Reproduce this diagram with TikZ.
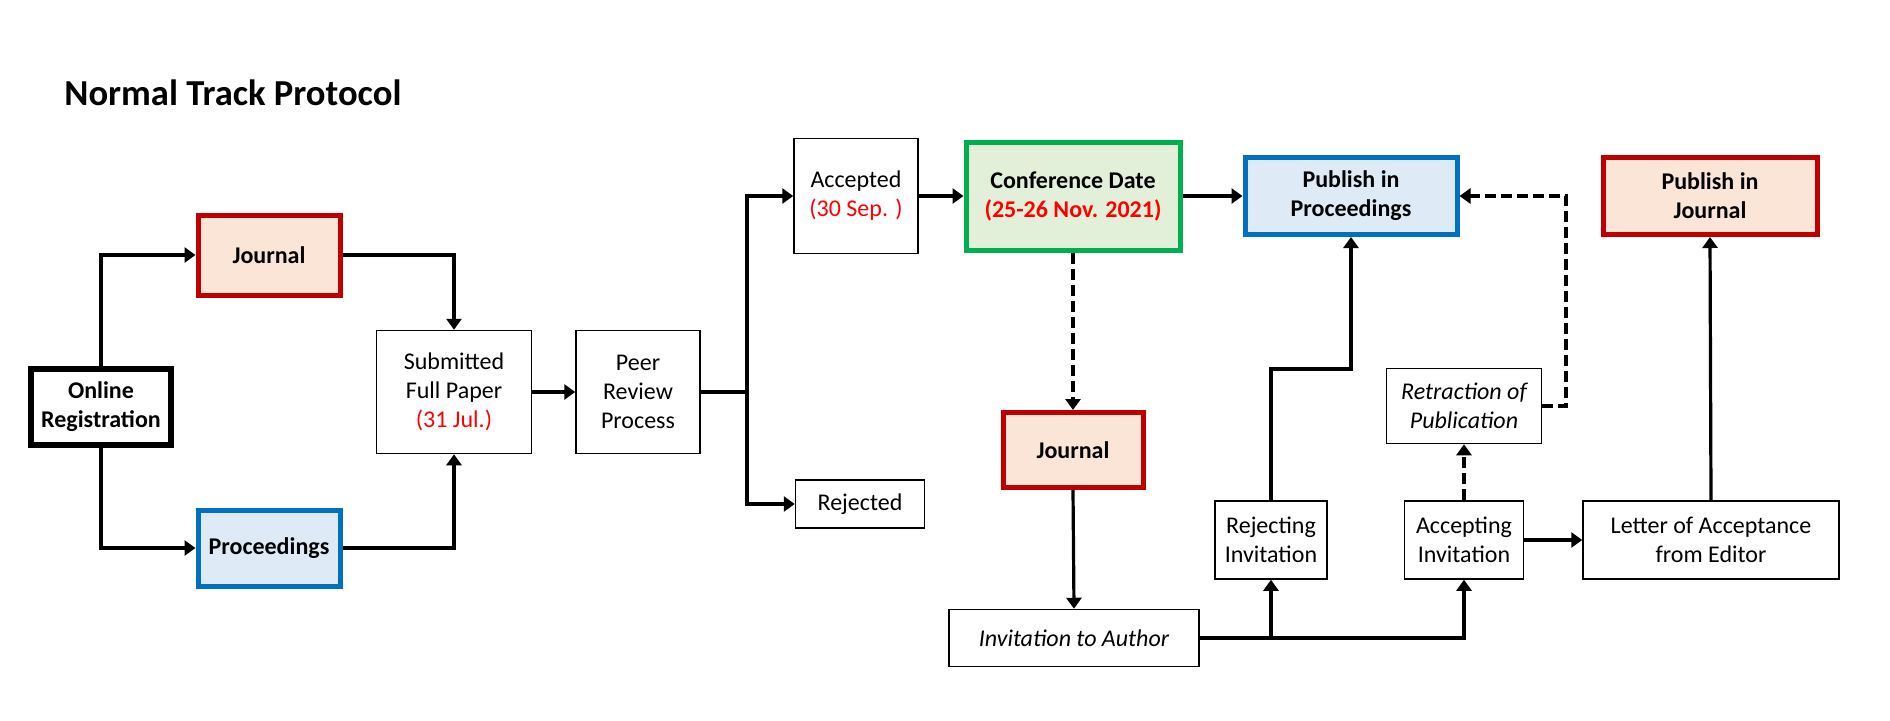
\documentclass[tikz,border=0pt]{standalone}
\usepackage{fontspec}
\setmainfont{Carlito}
\usetikzlibrary{arrows.meta}
\definecolor{jred}{HTML}{C00000}
\definecolor{jfill}{HTML}{FBE5D6}
\definecolor{pblue}{HTML}{0070C0}
\definecolor{pfill}{HTML}{DEEBF7}
\definecolor{cgreen}{HTML}{00B050}
\definecolor{cfill}{HTML}{E2F0D9}
\definecolor{dred}{HTML}{FF0000}
\begin{document}
\begin{tikzpicture}[x=0.5pt,y=-0.5pt,
  base/.style={draw=black,line width=0.75pt,fill=white,align=center,inner sep=0pt,
    font=\fontsize{12}{14.5}\selectfont},
  jbox/.style={base,draw=jred,fill=jfill,line width=2.5pt,font=\fontsize{12}{14.5}\selectfont\bfseries},
  pbox/.style={base,draw=pblue,fill=pfill,line width=2.5pt,font=\fontsize{12}{14.5}\selectfont\bfseries},
  cbox/.style={base,draw=cgreen,fill=cfill,line width=2.5pt,font=\fontsize{12}{14.5}\selectfont\bfseries},
  obox/.style={base,line width=3pt,font=\fontsize{12}{14.5}\selectfont\bfseries},
  conn/.style={line width=1.6pt,-{Triangle[length=5.5pt,width=7.5pt]}},
  plain/.style={line width=1.6pt},
  dconn/.style={conn,line width=2pt,dash pattern=on 5.5pt off 2.5pt},
  date/.style={text=dred}
]
\useasboundingbox (0,0) rectangle (1890,720);

\node[anchor=west,inner sep=0pt,font=\fontsize{18.3}{22}\selectfont\bfseries] (title) at (64,93) {Normal Track Protocol};

\node[jbox,minimum width=71pt,minimum height=40pt] (j1) at (269,255) {Journal};
\node[obox,minimum width=70pt,minimum height=38pt] (or) at (101,407) {Online\\Registration};
\node[pbox,minimum width=71pt,minimum height=38pt] (pro) at (269,548) {Proceedings};
\node[base,minimum width=77.5pt,minimum height=61.5pt] (sub) at (454,392) {Submitted\\Full Paper\\\textcolor{dred}{(31 Jul.)}};
\node[base,minimum width=62pt,minimum height=61.5pt] (peer) at (638,392) {Peer\\Review\\Process};
\node[base,minimum width=62pt,minimum height=57.5pt] (acc) at (856,196) {Accepted\\\textcolor{dred}{(30 Sep. )}};
\node[base,minimum width=64.5pt,minimum height=24pt] (rej) at (860,504) {Rejected};
\node[cbox,minimum width=107pt,minimum height=54pt] (conf) at (1073,196) {Conference Date\\\textcolor{dred}{(25-26 Nov. 2021)}};
\node[jbox,minimum width=70pt,minimum height=37.5pt] (j2) at (1073,450) {Journal};
\node[base,minimum width=125pt,minimum height=28.5pt,font=\fontsize{12}{14.5}\selectfont\itshape] (inv) at (1074,638) {Invitation to Author};
\node[pbox,minimum width=106pt,minimum height=38.5pt] (pp) at (1351,196) {Publish in\\Proceedings};
\node[jbox,minimum width=107pt,minimum height=38.5pt] (pj) at (1710,196) {Publish in\\Journal};
\node[base,minimum width=77.5pt,minimum height=37.5pt,font=\fontsize{12}{14.5}\selectfont\itshape] (ret) at (1464,406) {Retraction of\\Publication};
\node[base,minimum width=56pt,minimum height=39pt] (rejg) at (1271,540) {Rejecting\\Invitation};
\node[base,minimum width=59.5pt,minimum height=39pt] (accg) at (1464,540) {Accepting\\Invitation};
\node[base,minimum width=128pt,minimum height=39pt] (let) at (1711,540) {Letter of Acceptance\\from Editor};

\coordinate (br) at (747,392);
\coordinate (k1) at (1271,369);
\coordinate (k2) at (1566,406);

\draw[conn] (or.north) |- (j1.west);
\draw[conn] (or.south) |- (pro.west);
\draw[conn] (j1.east) -| (sub.north);
\draw[conn] (pro.east) -| (sub.south);
\draw[conn] (sub.east) -- (peer.west);
\draw[plain] (peer.east) -- (br);
\draw[conn] (br) |- (acc.west);
\draw[conn] (br) |- (rej.west);
\draw[conn] (acc.east) -- (conf.west);
\draw[conn] (conf.east) -- (pp.west);
\draw[dconn] (conf.south) -- (j2.north);
\draw[conn] (j2.south) -- (inv.north);
\draw[conn] (inv.east) -| (rejg.south);
\draw[conn] (inv.east) -| (accg.south);
\draw[conn] (rejg.north) -- (k1) -| (pp.south);
\draw[dconn] (accg.north) -- (ret.south);
\draw[dconn] (ret.east) -- (k2) |- (pp.east);
\draw[conn] (accg.east) -- (let.west);
\draw[conn] (let.north) -- (pj.south);
\end{tikzpicture}
\end{document}
